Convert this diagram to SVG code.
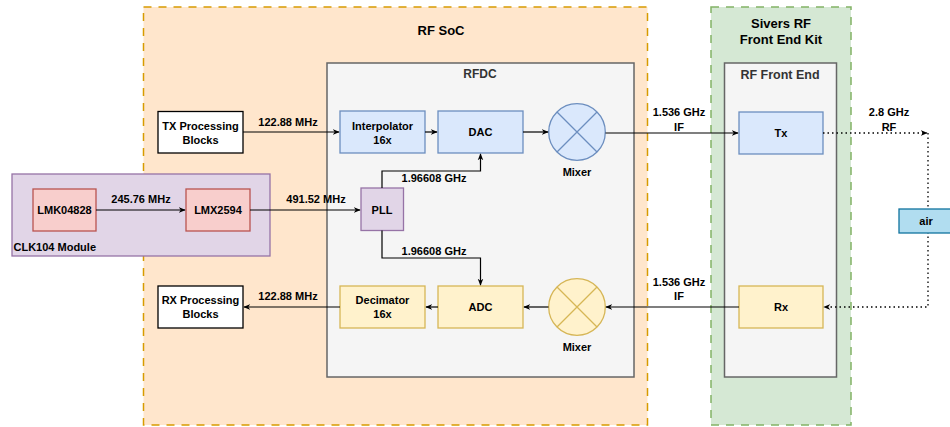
<svg xmlns="http://www.w3.org/2000/svg" width="950" height="427" viewBox="0 0 950 427">
<style>
text{font-family:"Liberation Sans",Arial,Helvetica,sans-serif;font-weight:bold;font-size:11px;fill:#000;text-anchor:middle;dominant-baseline:central}
.t13{font-size:13px}
.t12{font-size:12px;fill:#333}
.blue{fill:#dae8fc;stroke:#6c8ebf;stroke-width:1.3}
.yel{fill:#fff2cc;stroke:#d6b656;stroke-width:1.3}
.red{fill:#f8cecc;stroke:#b85450;stroke-width:1.3}
.pur{fill:#e1d5e7;stroke:#9673a6;stroke-width:1.3}
.wht{fill:#fff;stroke:#000;stroke-width:1.3}
.grey{fill:#f5f5f5;stroke:#666;stroke-width:1.5}
.ln{fill:none;stroke:#000;stroke-width:1.2}
.dot{fill:none;stroke:#000;stroke-width:1.3;stroke-dasharray:1.5 3}
</style>
<defs>
<marker id="ar" viewBox="0 0 10 10" refX="9" refY="5" markerWidth="7" markerHeight="7" markerUnits="userSpaceOnUse" orient="auto">
<path d="M0,1 L10,5 L0,9 L3,5 Z" fill="#000"/>
</marker>
</defs>

<g id="rfsoc">
<rect x="143.5" y="7" width="504" height="418" fill="#ffe6cc" stroke="#d79b00" stroke-width="1.5" stroke-dasharray="8 7"/>
<text x="441" y="30" class="t13">RF SoC</text>
</g>
<g id="sivers">
<rect x="711" y="7" width="140" height="418" fill="#d5e8d4" stroke="#82b366" stroke-width="1.5" stroke-dasharray="8 7"/>
<text x="781" y="23" class="t13">Sivers RF</text>
<text x="781" y="39" class="t13">Front End Kit</text>
</g>
<g id="rfdc">
<rect x="327" y="63" width="307" height="314" class="grey"/>
<text x="480" y="74" class="t12">RFDC</text>
</g>
<g id="rffe">
<rect x="724.5" y="63" width="112" height="314" class="grey"/>
<text x="780" y="75" class="t12" style="font-size:12.5px">RF Front End</text>
</g>
<g id="clk104">
<rect x="12" y="174" width="258" height="82" class="pur"/>
<text x="13.5" y="247" style="text-anchor:start">CLK104 Module</text>
</g>
<g id="lmk">
<rect x="33" y="189" width="63" height="42" class="red"/>
<text x="64.5" y="210">LMK04828</text>
</g>
<g id="lmx">
<rect x="186" y="189" width="64" height="42" class="red"/>
<text x="218" y="210">LMX2594</text>
</g>
<g id="txproc">
<rect x="158" y="111.5" width="85" height="41.5" class="wht"/>
<text x="200.5" y="125.5">TX Processing</text>
<text x="200.5" y="139.5">Blocks</text>
</g>
<g id="rxproc">
<rect x="158" y="286" width="85" height="42" class="wht"/>
<text x="200.5" y="300">RX Processing</text>
<text x="200.5" y="314">Blocks</text>
</g>
<g id="interp">
<rect x="340" y="111" width="85" height="42" class="blue"/>
<text x="382.5" y="126">Interpolator</text>
<text x="382.5" y="140">16x</text>
</g>
<g id="dac">
<rect x="438" y="111" width="85" height="42" class="blue"/>
<text x="480.5" y="132">DAC</text>
</g>
<g id="mixtx">
<circle cx="577" cy="132" r="28.3" class="blue"/>
<path d="M557,112 L597,152 M597,112 L557,152" stroke="#6c8ebf" stroke-width="1.3" fill="none"/>
<text x="577" y="172">Mixer</text>
</g>
<g id="pll">
<rect x="361" y="188" width="42.5" height="42.5" class="pur"/>
<text x="382" y="210">PLL</text>
</g>
<g id="decim">
<rect x="340" y="286" width="85" height="42" class="yel"/>
<text x="382.5" y="300">Decimator</text>
<text x="382.5" y="314">16x</text>
</g>
<g id="adc">
<rect x="438" y="286" width="85" height="42" class="yel"/>
<text x="480.5" y="307">ADC</text>
</g>
<g id="mixrx">
<circle cx="577" cy="307" r="28.3" class="yel"/>
<path d="M557,287 L597,327 M597,287 L557,327" stroke="#d6b656" stroke-width="1.3" fill="none"/>
<text x="577" y="347">Mixer</text>
</g>
<g id="tx">
<rect x="739" y="112" width="84" height="42" class="blue"/>
<text x="781" y="133">Tx</text>
</g>
<g id="rx">
<rect x="739" y="286" width="84" height="42" class="yel"/>
<text x="781" y="307">Rx</text>
</g>

<g id="connectors">
<path d="M243,132 H339" class="ln" marker-end="url(#ar)"/>
<path d="M425,132 H437" class="ln" marker-end="url(#ar)"/>
<path d="M523,132 H548" class="ln" marker-end="url(#ar)"/>
<path d="M605.5,133 H738" class="ln" marker-end="url(#ar)"/>
<path d="M823,133 H927" class="dot" marker-end="url(#ar)"/>
<path d="M928,133 V307 H824" class="dot" marker-end="url(#ar)"/>
<path d="M739,307 H606" class="ln" marker-end="url(#ar)"/>
<path d="M548.5,307 H524" class="ln" marker-end="url(#ar)"/>
<path d="M438,307 H426" class="ln" marker-end="url(#ar)"/>
<path d="M340,307 H244" class="ln" marker-end="url(#ar)"/>
<path d="M96,210 H185" class="ln" marker-end="url(#ar)"/>
<path d="M250,210 H360" class="ln" marker-end="url(#ar)"/>
<path d="M382,188 V171 H480.5 V154" class="ln" marker-end="url(#ar)"/>
<path d="M382,230.5 V258 H480.5 V285" class="ln" marker-end="url(#ar)"/>
<text x="288" y="122">122.88 MHz</text>
<text x="288" y="296">122.88 MHz</text>
<text x="141" y="199">245.76 MHz</text>
<text x="316" y="199">491.52 MHz</text>
<text x="434" y="178">1.96608 GHz</text>
<text x="434" y="251">1.96608 GHz</text>
<text x="679" y="112">1.536 GHz</text>
<text x="679" y="127">IF</text>
<text x="679" y="282">1.536 GHz</text>
<text x="679" y="296">IF</text>
<text x="889" y="112">2.8 GHz</text>
<text x="889" y="127">RF</text>
</g>

<g id="air">
<rect x="899" y="209" width="56" height="24" fill="#b1ddf0" stroke="#10739e" stroke-width="1.3"/>
<text x="926" y="221">air</text>
</g>
</svg>
